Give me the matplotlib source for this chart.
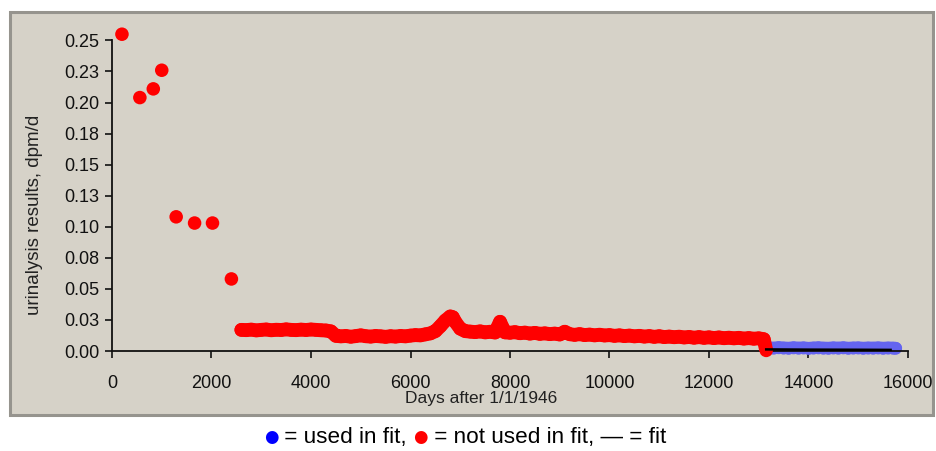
import matplotlib
matplotlib.use('Agg')
import matplotlib.pyplot as plt
from matplotlib.patches import Rectangle
from matplotlib.offsetbox import TextArea, HPacker, AnnotationBbox

plt.rcParams['font.family'] = ['Liberation Sans', 'DejaVu Sans']

# early sparse results (not used in fit)
early_days = [200, 560, 830, 1000, 1290, 1660, 2020, 2400]
early_vals = [0.255, 0.204, 0.211, 0.226, 0.108, 0.103, 0.103, 0.058]

# dense results 1953-1982 (not used in fit)
red_days = [2600, 2700, 2800, 2900, 3000, 3100, 3200, 3300, 3400, 3500,
            3600, 3700, 3800, 3900, 4000, 4100, 4200, 4300, 4400, 4500,
            4600, 4700, 4800, 4900, 5000, 5100, 5200, 5300, 5400, 5500,
            5600, 5700, 5800, 5900, 6000, 6100, 6200, 6300, 6400, 6500,
            6600, 6700, 6800, 6850, 6900, 7000, 7100, 7200, 7300, 7400,
            7500, 7600, 7700, 7800, 7850, 7900, 8000, 8100, 8200, 8300,
            8400, 8500, 8600, 8700, 8800, 8900, 9000, 9100, 9200, 9300,
            9400, 9500, 9600, 9700, 9800, 9900, 10000, 10100, 10200, 10300,
            10400, 10500, 10600, 10700, 10800, 10900, 11000, 11100, 11200, 11300,
            11400, 11500, 11600, 11700, 11800, 11900, 12000, 12100, 12200, 12300,
            12400, 12500, 12600, 12700, 12800, 12900, 13000, 13100, 13150]
red_vals = [0.0170, 0.0168, 0.0172, 0.0166, 0.0170, 0.0173, 0.0167, 0.0171, 0.0169, 0.0174,
            0.0170, 0.0168, 0.0172, 0.0169, 0.0173, 0.0170, 0.0167, 0.0165, 0.0158, 0.0122,
            0.0118, 0.0121, 0.0115, 0.0120, 0.0126, 0.0119, 0.0116, 0.0121, 0.0118, 0.0114,
            0.0119, 0.0116, 0.0121, 0.0118, 0.0124, 0.0128, 0.0126, 0.0134, 0.0142, 0.0160,
            0.0200, 0.0245, 0.0278, 0.0272, 0.0235, 0.0180, 0.0160, 0.0156, 0.0152, 0.0158,
            0.0150, 0.0155, 0.0149, 0.0235, 0.0190, 0.0150, 0.0147, 0.0152, 0.0143, 0.0148,
            0.0140, 0.0146, 0.0138, 0.0142, 0.0136, 0.0140, 0.0133, 0.0155, 0.0135, 0.0130,
            0.0136, 0.0128, 0.0132, 0.0126, 0.0131, 0.0125, 0.0128, 0.0122, 0.0126, 0.0120,
            0.0124, 0.0118, 0.0122, 0.0116, 0.0120, 0.0114, 0.0119, 0.0112, 0.0116, 0.0111,
            0.0115, 0.0109, 0.0113, 0.0107, 0.0112, 0.0106, 0.0110, 0.0104, 0.0109, 0.0103,
            0.0107, 0.0102, 0.0106, 0.0100, 0.0104, 0.0099, 0.0102, 0.0095, 0.0005]

# results used in fit
blue_days = [13200, 13300, 13400, 13500, 13600, 13700, 13800, 13900, 14000, 14100,
             14200, 14300, 14400, 14500, 14600, 14700, 14800, 14900, 15000, 15100,
             15200, 15300, 15400, 15500, 15600, 15700, 15750]
blue_vals = [0.0024, 0.0022, 0.0026, 0.0023, 0.0021, 0.0025, 0.0022, 0.0024, 0.0020, 0.0023,
             0.0025, 0.0022, 0.0021, 0.0024, 0.0022, 0.0025, 0.0021, 0.0023, 0.0024, 0.0021,
             0.0023, 0.0022, 0.0024, 0.0021, 0.0023, 0.0022, 0.0021]

# fitted curve
fit_days = [13150, 14000, 15000, 15650]
fit_vals = [0.0013, 0.0011, 0.0010, 0.0009]

yticks = [0.0, 0.025, 0.05, 0.075, 0.10, 0.125, 0.15, 0.175, 0.20, 0.225, 0.25]
ytick_labels = ['0.00', '0.03', '0.05', '0.08', '0.10', '0.13', '0.15', '0.18', '0.20', '0.23', '0.25']
xticks = [0, 2000, 4000, 6000, 8000, 10000, 12000, 14000, 16000]

panel = '#d6d2c8'
red = '#ff0000'
blue = '#6464f0'

fig = plt.figure(figsize=(9.37, 4.51), dpi=100)
fig.patch.set_facecolor('white')
fig.patches.append(Rectangle((10 / 937, 1 - 415 / 451), 923 / 937, 403 / 451,
                             transform=fig.transFigure, facecolor=panel,
                             edgecolor='#96948e', linewidth=2.2, zorder=-5))

ax = fig.add_axes([112 / 937, 1 - 351 / 451, 796 / 937, 323 / 451])
ax.set_zorder(2)
ax.set_facecolor('none')

ax.scatter(early_days, early_vals, s=95, color=red, edgecolors='none', zorder=3, clip_on=False)
# dense series: thick line underneath so the overlapping dots read as a band
ax.plot(red_days, red_vals, color=red, lw=10, solid_capstyle='round',
        solid_joinstyle='round', zorder=3)
ax.scatter(red_days, red_vals, s=95, color=red, edgecolors='none', zorder=3, clip_on=False)
ax.plot(blue_days, blue_vals, color=blue, lw=9.5, solid_capstyle='round',
        solid_joinstyle='round', zorder=2)
ax.scatter(blue_days, blue_vals, s=85, color=blue, edgecolors='none', zorder=2, clip_on=False)
ax.plot(fit_days, fit_vals, color='black', lw=1.8, zorder=4)

ax.set_xlim(0, 16000)
ax.set_ylim(0, 0.26)
ax.set_xticks(xticks)
ax.set_yticks(yticks)
ax.set_yticklabels(ytick_labels)
ax.spines['top'].set_visible(False)
ax.spines['right'].set_visible(False)
ax.spines['left'].set_bounds(0, 0.25)
for s in ['left', 'bottom']:
    ax.spines[s].set_linewidth(1.3)
    ax.spines[s].set_color('#111111')
ax.tick_params(direction='out', length=5, width=1.2, labelsize=13, colors='#111111')
ax.tick_params(axis='x', pad=12)
ax.tick_params(axis='y', pad=4)

ax.set_xlabel('Days after 1/1/1946', fontsize=12.5, color='#222222')
ax.set_ylabel('urinalysis results, dpm/d', fontsize=13.5, color='#222222')
ax.xaxis.set_label_coords((481 - 112) / 796, (351 - 399) / 323)
ax.yaxis.set_label_coords((35 - 112) / 796, (351 - 215) / 323)
ax.xaxis.label.set_va('center')
ax.yaxis.label.set_va('center')

# caption with coloured dots
fp = dict(fontsize=16.2, color='black')
dp = dict(fontsize=12, family='DejaVu Sans')
parts = [TextArea('\u25cf', textprops=dict(color='#0000ff', **dp)),
         TextArea(' = used in fit, ', textprops=fp),
         TextArea('\u25cf', textprops=dict(color='#ff0000', **dp)),
         TextArea(' = not used in fit, \u2014 = fit', textprops=fp)]
box = HPacker(children=parts, align='baseline', pad=0, sep=0)
ab = AnnotationBbox(box, (465 / 937, 1 - 437 / 451), xycoords='figure fraction',
                    frameon=False, box_alignment=(0.5, 0.5))
fig.add_artist(ab)

fig.savefig('out.png', dpi=100, facecolor='white')
